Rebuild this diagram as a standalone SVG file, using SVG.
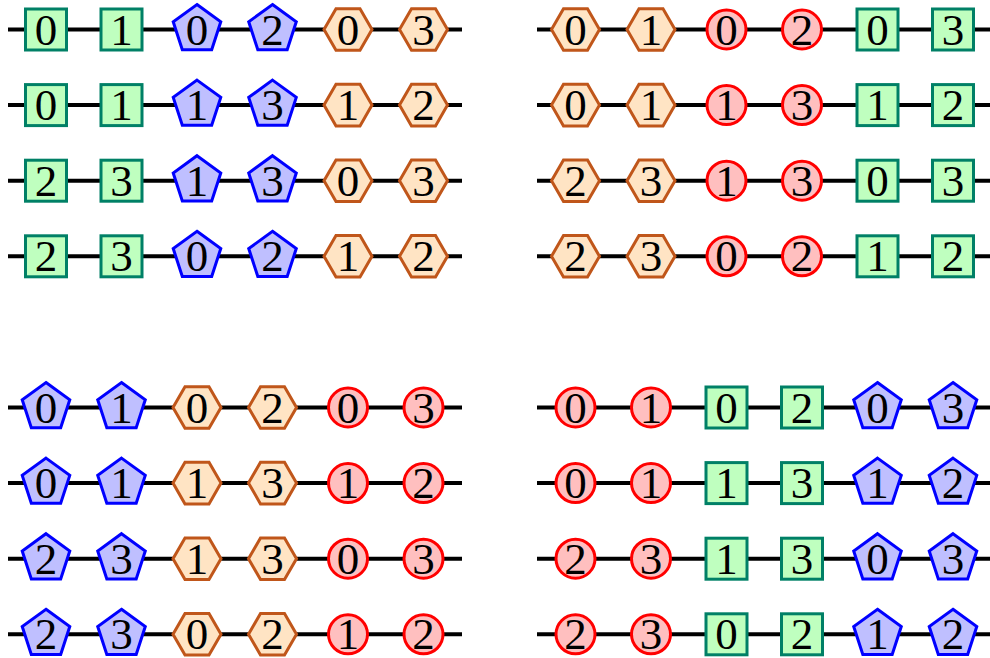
<svg xmlns="http://www.w3.org/2000/svg" width="990" height="658" viewBox="0 0 990 658" font-family="'Liberation Serif', 'DejaVu Serif', serif">
<style>
.ln{stroke:#000;stroke-width:4;fill:none}
.sq{fill:#BFFFBF;stroke:#008066;stroke-width:3}
.pg{fill:#BFBFFF;stroke:#0000FF;stroke-width:3;stroke-linejoin:miter}
.hx{fill:#FFE4C4;stroke:#C0561A;stroke-width:3;stroke-linejoin:miter}
.ci{fill:#FFBFBF;stroke:#FF0000;stroke-width:3}
.t{font-family:'Liberation Serif','DejaVu Serif',serif;font-size:45px;text-anchor:middle;fill:#000}
</style>
<defs>
<rect id="S" class="sq" x="-20.5" y="-20.5" width="41" height="41"/>
<polygon id="P" class="pg" points="0,-25 23.78,-7.73 14.69,20.23 -14.69,20.23 -23.78,-7.73"/>
<polygon id="H" class="hx" points="-24,0 -12,-20.78 12,-20.78 24,0 12,20.78 -12,20.78"/>
<circle id="C" class="ci" r="19.5"/>
</defs>
<g id="connectors">
<line class="ln" x1="8" y1="29.5" x2="462" y2="29.5"/>
<line class="ln" x1="8" y1="105.1" x2="462" y2="105.1"/>
<line class="ln" x1="8" y1="180.7" x2="462" y2="180.7"/>
<line class="ln" x1="8" y1="256.3" x2="462" y2="256.3"/>
<line class="ln" x1="537" y1="29.5" x2="990" y2="29.5"/>
<line class="ln" x1="537" y1="105.1" x2="990" y2="105.1"/>
<line class="ln" x1="537" y1="180.7" x2="990" y2="180.7"/>
<line class="ln" x1="537" y1="256.3" x2="990" y2="256.3"/>
<line class="ln" x1="8" y1="407.5" x2="462" y2="407.5"/>
<line class="ln" x1="8" y1="483.1" x2="462" y2="483.1"/>
<line class="ln" x1="8" y1="558.7" x2="462" y2="558.7"/>
<line class="ln" x1="8" y1="634.3" x2="462" y2="634.3"/>
<line class="ln" x1="537" y1="407.5" x2="990" y2="407.5"/>
<line class="ln" x1="537" y1="483.1" x2="990" y2="483.1"/>
<line class="ln" x1="537" y1="558.7" x2="990" y2="558.7"/>
<line class="ln" x1="537" y1="634.3" x2="990" y2="634.3"/>
</g>
<g id="tl-r1">
<g id="tl1a" transform="translate(46,29.5)"><use href="#S"/><text class="t" y="15">0</text></g>
<g id="tl1b" transform="translate(121.5,29.5)"><use href="#S"/><text class="t" y="15">1</text></g>
<g id="tl1c" transform="translate(197,29.5)"><use href="#P"/><text class="t" y="15">0</text></g>
<g id="tl1d" transform="translate(272.5,29.5)"><use href="#P"/><text class="t" y="15">2</text></g>
<g id="tl1e" transform="translate(348,29.5)"><use href="#H"/><text class="t" y="15">0</text></g>
<g id="tl1f" transform="translate(423.5,29.5)"><use href="#H"/><text class="t" y="15">3</text></g>
</g>
<g id="tl-r2">
<g id="tl2a" transform="translate(46,105.1)"><use href="#S"/><text class="t" y="15">0</text></g>
<g id="tl2b" transform="translate(121.5,105.1)"><use href="#S"/><text class="t" y="15">1</text></g>
<g id="tl2c" transform="translate(197,105.1)"><use href="#P"/><text class="t" y="15">1</text></g>
<g id="tl2d" transform="translate(272.5,105.1)"><use href="#P"/><text class="t" y="15">3</text></g>
<g id="tl2e" transform="translate(348,105.1)"><use href="#H"/><text class="t" y="15">1</text></g>
<g id="tl2f" transform="translate(423.5,105.1)"><use href="#H"/><text class="t" y="15">2</text></g>
</g>
<g id="tl-r3">
<g id="tl3a" transform="translate(46,180.7)"><use href="#S"/><text class="t" y="15">2</text></g>
<g id="tl3b" transform="translate(121.5,180.7)"><use href="#S"/><text class="t" y="15">3</text></g>
<g id="tl3c" transform="translate(197,180.7)"><use href="#P"/><text class="t" y="15">1</text></g>
<g id="tl3d" transform="translate(272.5,180.7)"><use href="#P"/><text class="t" y="15">3</text></g>
<g id="tl3e" transform="translate(348,180.7)"><use href="#H"/><text class="t" y="15">0</text></g>
<g id="tl3f" transform="translate(423.5,180.7)"><use href="#H"/><text class="t" y="15">3</text></g>
</g>
<g id="tl-r4">
<g id="tl4a" transform="translate(46,256.3)"><use href="#S"/><text class="t" y="15">2</text></g>
<g id="tl4b" transform="translate(121.5,256.3)"><use href="#S"/><text class="t" y="15">3</text></g>
<g id="tl4c" transform="translate(197,256.3)"><use href="#P"/><text class="t" y="15">0</text></g>
<g id="tl4d" transform="translate(272.5,256.3)"><use href="#P"/><text class="t" y="15">2</text></g>
<g id="tl4e" transform="translate(348,256.3)"><use href="#H"/><text class="t" y="15">1</text></g>
<g id="tl4f" transform="translate(423.5,256.3)"><use href="#H"/><text class="t" y="15">2</text></g>
</g>
<g id="tr-r1">
<g id="tr1a" transform="translate(575.5,29.5)"><use href="#H"/><text class="t" y="15">0</text></g>
<g id="tr1b" transform="translate(651,29.5)"><use href="#H"/><text class="t" y="15">1</text></g>
<g id="tr1c" transform="translate(726.5,29.5)"><use href="#C"/><text class="t" y="15">0</text></g>
<g id="tr1d" transform="translate(802,29.5)"><use href="#C"/><text class="t" y="15">2</text></g>
<g id="tr1e" transform="translate(877.5,29.5)"><use href="#S"/><text class="t" y="15">0</text></g>
<g id="tr1f" transform="translate(953,29.5)"><use href="#S"/><text class="t" y="15">3</text></g>
</g>
<g id="tr-r2">
<g id="tr2a" transform="translate(575.5,105.1)"><use href="#H"/><text class="t" y="15">0</text></g>
<g id="tr2b" transform="translate(651,105.1)"><use href="#H"/><text class="t" y="15">1</text></g>
<g id="tr2c" transform="translate(726.5,105.1)"><use href="#C"/><text class="t" y="15">1</text></g>
<g id="tr2d" transform="translate(802,105.1)"><use href="#C"/><text class="t" y="15">3</text></g>
<g id="tr2e" transform="translate(877.5,105.1)"><use href="#S"/><text class="t" y="15">1</text></g>
<g id="tr2f" transform="translate(953,105.1)"><use href="#S"/><text class="t" y="15">2</text></g>
</g>
<g id="tr-r3">
<g id="tr3a" transform="translate(575.5,180.7)"><use href="#H"/><text class="t" y="15">2</text></g>
<g id="tr3b" transform="translate(651,180.7)"><use href="#H"/><text class="t" y="15">3</text></g>
<g id="tr3c" transform="translate(726.5,180.7)"><use href="#C"/><text class="t" y="15">1</text></g>
<g id="tr3d" transform="translate(802,180.7)"><use href="#C"/><text class="t" y="15">3</text></g>
<g id="tr3e" transform="translate(877.5,180.7)"><use href="#S"/><text class="t" y="15">0</text></g>
<g id="tr3f" transform="translate(953,180.7)"><use href="#S"/><text class="t" y="15">3</text></g>
</g>
<g id="tr-r4">
<g id="tr4a" transform="translate(575.5,256.3)"><use href="#H"/><text class="t" y="15">2</text></g>
<g id="tr4b" transform="translate(651,256.3)"><use href="#H"/><text class="t" y="15">3</text></g>
<g id="tr4c" transform="translate(726.5,256.3)"><use href="#C"/><text class="t" y="15">0</text></g>
<g id="tr4d" transform="translate(802,256.3)"><use href="#C"/><text class="t" y="15">2</text></g>
<g id="tr4e" transform="translate(877.5,256.3)"><use href="#S"/><text class="t" y="15">1</text></g>
<g id="tr4f" transform="translate(953,256.3)"><use href="#S"/><text class="t" y="15">2</text></g>
</g>
<g id="bl-r1">
<g id="bl1a" transform="translate(46,407.5)"><use href="#P"/><text class="t" y="15">0</text></g>
<g id="bl1b" transform="translate(121.5,407.5)"><use href="#P"/><text class="t" y="15">1</text></g>
<g id="bl1c" transform="translate(197,407.5)"><use href="#H"/><text class="t" y="15">0</text></g>
<g id="bl1d" transform="translate(272.5,407.5)"><use href="#H"/><text class="t" y="15">2</text></g>
<g id="bl1e" transform="translate(348,407.5)"><use href="#C"/><text class="t" y="15">0</text></g>
<g id="bl1f" transform="translate(423.5,407.5)"><use href="#C"/><text class="t" y="15">3</text></g>
</g>
<g id="bl-r2">
<g id="bl2a" transform="translate(46,483.1)"><use href="#P"/><text class="t" y="15">0</text></g>
<g id="bl2b" transform="translate(121.5,483.1)"><use href="#P"/><text class="t" y="15">1</text></g>
<g id="bl2c" transform="translate(197,483.1)"><use href="#H"/><text class="t" y="15">1</text></g>
<g id="bl2d" transform="translate(272.5,483.1)"><use href="#H"/><text class="t" y="15">3</text></g>
<g id="bl2e" transform="translate(348,483.1)"><use href="#C"/><text class="t" y="15">1</text></g>
<g id="bl2f" transform="translate(423.5,483.1)"><use href="#C"/><text class="t" y="15">2</text></g>
</g>
<g id="bl-r3">
<g id="bl3a" transform="translate(46,558.7)"><use href="#P"/><text class="t" y="15">2</text></g>
<g id="bl3b" transform="translate(121.5,558.7)"><use href="#P"/><text class="t" y="15">3</text></g>
<g id="bl3c" transform="translate(197,558.7)"><use href="#H"/><text class="t" y="15">1</text></g>
<g id="bl3d" transform="translate(272.5,558.7)"><use href="#H"/><text class="t" y="15">3</text></g>
<g id="bl3e" transform="translate(348,558.7)"><use href="#C"/><text class="t" y="15">0</text></g>
<g id="bl3f" transform="translate(423.5,558.7)"><use href="#C"/><text class="t" y="15">3</text></g>
</g>
<g id="bl-r4">
<g id="bl4a" transform="translate(46,634.3)"><use href="#P"/><text class="t" y="15">2</text></g>
<g id="bl4b" transform="translate(121.5,634.3)"><use href="#P"/><text class="t" y="15">3</text></g>
<g id="bl4c" transform="translate(197,634.3)"><use href="#H"/><text class="t" y="15">0</text></g>
<g id="bl4d" transform="translate(272.5,634.3)"><use href="#H"/><text class="t" y="15">2</text></g>
<g id="bl4e" transform="translate(348,634.3)"><use href="#C"/><text class="t" y="15">1</text></g>
<g id="bl4f" transform="translate(423.5,634.3)"><use href="#C"/><text class="t" y="15">2</text></g>
</g>
<g id="br-r1">
<g id="br1a" transform="translate(575.5,407.5)"><use href="#C"/><text class="t" y="15">0</text></g>
<g id="br1b" transform="translate(651,407.5)"><use href="#C"/><text class="t" y="15">1</text></g>
<g id="br1c" transform="translate(726.5,407.5)"><use href="#S"/><text class="t" y="15">0</text></g>
<g id="br1d" transform="translate(802,407.5)"><use href="#S"/><text class="t" y="15">2</text></g>
<g id="br1e" transform="translate(877.5,407.5)"><use href="#P"/><text class="t" y="15">0</text></g>
<g id="br1f" transform="translate(953,407.5)"><use href="#P"/><text class="t" y="15">3</text></g>
</g>
<g id="br-r2">
<g id="br2a" transform="translate(575.5,483.1)"><use href="#C"/><text class="t" y="15">0</text></g>
<g id="br2b" transform="translate(651,483.1)"><use href="#C"/><text class="t" y="15">1</text></g>
<g id="br2c" transform="translate(726.5,483.1)"><use href="#S"/><text class="t" y="15">1</text></g>
<g id="br2d" transform="translate(802,483.1)"><use href="#S"/><text class="t" y="15">3</text></g>
<g id="br2e" transform="translate(877.5,483.1)"><use href="#P"/><text class="t" y="15">1</text></g>
<g id="br2f" transform="translate(953,483.1)"><use href="#P"/><text class="t" y="15">2</text></g>
</g>
<g id="br-r3">
<g id="br3a" transform="translate(575.5,558.7)"><use href="#C"/><text class="t" y="15">2</text></g>
<g id="br3b" transform="translate(651,558.7)"><use href="#C"/><text class="t" y="15">3</text></g>
<g id="br3c" transform="translate(726.5,558.7)"><use href="#S"/><text class="t" y="15">1</text></g>
<g id="br3d" transform="translate(802,558.7)"><use href="#S"/><text class="t" y="15">3</text></g>
<g id="br3e" transform="translate(877.5,558.7)"><use href="#P"/><text class="t" y="15">0</text></g>
<g id="br3f" transform="translate(953,558.7)"><use href="#P"/><text class="t" y="15">3</text></g>
</g>
<g id="br-r4">
<g id="br4a" transform="translate(575.5,634.3)"><use href="#C"/><text class="t" y="15">2</text></g>
<g id="br4b" transform="translate(651,634.3)"><use href="#C"/><text class="t" y="15">3</text></g>
<g id="br4c" transform="translate(726.5,634.3)"><use href="#S"/><text class="t" y="15">0</text></g>
<g id="br4d" transform="translate(802,634.3)"><use href="#S"/><text class="t" y="15">2</text></g>
<g id="br4e" transform="translate(877.5,634.3)"><use href="#P"/><text class="t" y="15">1</text></g>
<g id="br4f" transform="translate(953,634.3)"><use href="#P"/><text class="t" y="15">2</text></g>
</g>
</svg>
